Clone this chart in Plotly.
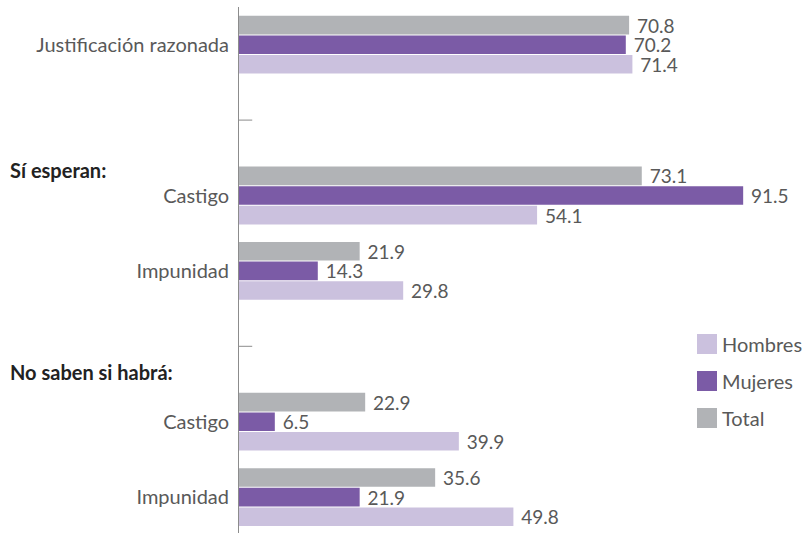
import plotly.graph_objects as go

# Data
categories = ["Justificación razonada", "Castigo", "Impunidad", "Castigo", "Impunidad"]
positions = [0, 2, 3, 5, 6]
total = [70.8, 73.1, 21.9, 22.9, 35.6]
mujeres = [70.2, 91.5, 14.3, 6.5, 21.9]
hombres = [71.4, 54.1, 29.8, 39.9, 49.8]
group_labels = ["Sí esperan:", "No saben si habrá:"]
group_label_pos = [1.66, 4.34]
separator_pos = [1, 4]
legend_names = ["Hombres", "Mujeres", "Total"]

FONT = "Lato"
TXT = "#595959"
colors = {"Total": "#B1B3B6", "Mujeres": "#7B5BA6", "Hombres": "#CBC1DE"}

W, H = 802, 533
ML, MT = 239, 7
PW, PH = W - ML, H - MT

fig = go.Figure()
for name, vals in [("Total", total), ("Mujeres", mujeres), ("Hombres", hombres)]:
    fig.add_trace(go.Bar(
        name=name, y=positions, x=vals, orientation="h",
        marker=dict(color=colors[name], line=dict(width=0)),
        text=[f"\u00a0{v:.1f}" for v in vals], textposition="outside",
        textfont=dict(family=FONT, size=19, color=TXT),
        constraintext="none", cliponaxis=False, showlegend=False,
    ))

shapes = []
for p in separator_pos:
    shapes.append(dict(type="line", xref="x", yref="y", x0=0, x1=2.4, y0=p, y1=p,
                       line=dict(color="#8C8C8C", width=1)))

annotations = []
for lab, p in zip(group_labels, group_label_pos):
    annotations.append(dict(text=f"<b>{lab}</b>", xref="paper", yref="y",
                            x=(8 - ML) / PW, y=p, xanchor="left", yanchor="middle",
                            showarrow=False,
                            font=dict(family=FONT, size=20, color="#222222")))

# manual legend (pixel positions converted to paper coords)
def px(xp):
    return (xp - ML) / PW

def py(yp):
    return 1 - (yp - MT) / PH

for i, name in enumerate(legend_names):
    cy = 344 + 37 * i
    shapes.append(dict(type="rect", xref="paper", yref="paper",
                       x0=px(697), x1=px(717), y0=py(cy - 10), y1=py(cy + 10),
                       fillcolor=colors[name], line=dict(width=0)))
    annotations.append(dict(text=name, xref="paper", yref="paper",
                            x=px(720), y=py(cy), xanchor="left", yanchor="middle",
                            showarrow=False,
                            font=dict(family=FONT, size=20, color=TXT)))

fig.update_layout(
    width=W, height=H,
    margin=dict(l=ML, r=0, t=MT, b=0, pad=0),
    paper_bgcolor="white", plot_bgcolor="white",
    barmode="group", bargap=0.22, bargroupgap=0.05,
    showlegend=False,
    shapes=shapes, annotations=annotations,
    font=dict(family=FONT, color=TXT),
)
fig.update_xaxes(range=[0, PW / 5.51], showgrid=False, zeroline=False,
                 showticklabels=False, showline=False, ticks="")
fig.update_yaxes(range=[6.476, -0.5], tickmode="array", tickvals=positions,
                 ticktext=categories, showgrid=False, zeroline=False,
                 showline=True, linecolor="#8C8C8C", linewidth=1, ticks="",
                 ticklabelstandoff=5,
                 tickfont=dict(family=FONT, size=20, color=TXT))

fig.write_html("out.html")
